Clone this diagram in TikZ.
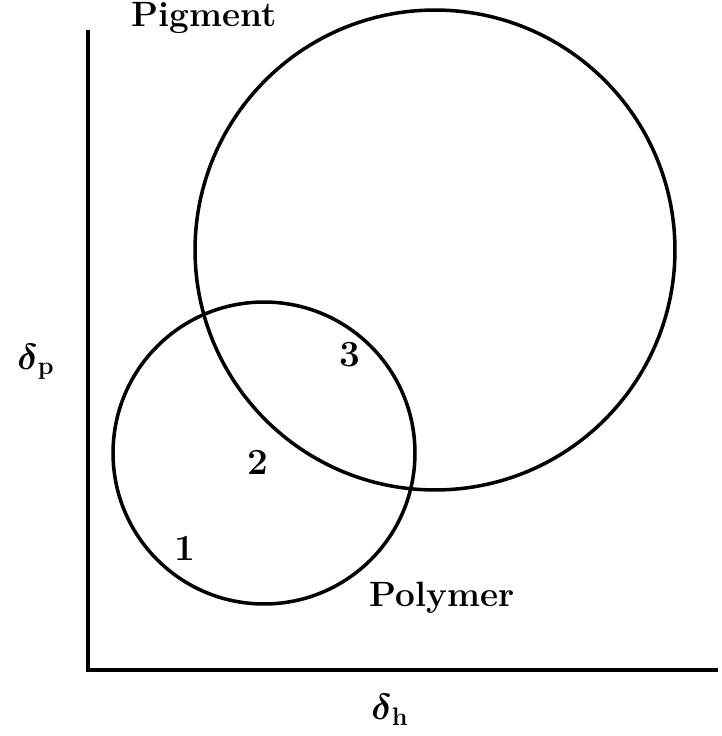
\documentclass[tikz,border=0pt]{standalone}
\usepackage{amsmath}
\usepackage{tikz}
\usetikzlibrary{positioning, calc}
\tikzset{
  region/.style={
    circle, draw=black, line width=2pt, inner sep=0pt
  },
  axis/.style={draw=black, line width=2.8pt},
  label/.style={font=\fontsize{20}{22}\selectfont\bfseries, inner sep=0pt},
  num/.style={font=\fontsize{21}{22}\selectfont\bfseries, inner sep=0pt},
  symb/.style={font=\fontsize{22}{24}\selectfont, inner sep=0pt}
}

\begin{document}
\begin{tikzpicture}[x=0.02cm, y=-0.02cm]
  \useasboundingbox (0,0) rectangle (721,736);
  % axes
  \coordinate (top) at (88,30);
  \coordinate (origin) at (88,670);
  \coordinate (right) at (718,670);
  \draw[axis] (top) -- (origin) -- (right);

  % solubility regions
  \node[region, minimum size=9.6cm] (pigment) at (435,250) {};
  \node[region, minimum size=6.04cm] (polymer) at (264,453) {};

  % labels
  \node[label] (pigmentlbl) at (204,18) {Pigment};
  \node[label] (polymerlbl) at (442,598) {Polymer};
  \node[num] (p3) at (350,355) {3};
  \node[num] (p2) at (258,462) {2};
  \node[num] (p1) at (185,548) {1};
  \node[symb] (dp) at (36,362) {$\boldsymbol{\delta}_{\mathbf{p}}$};
  \node[symb] (dh) at (390,710) {$\boldsymbol{\delta}_{\mathbf{h}}$};
\end{tikzpicture}
\end{document}
